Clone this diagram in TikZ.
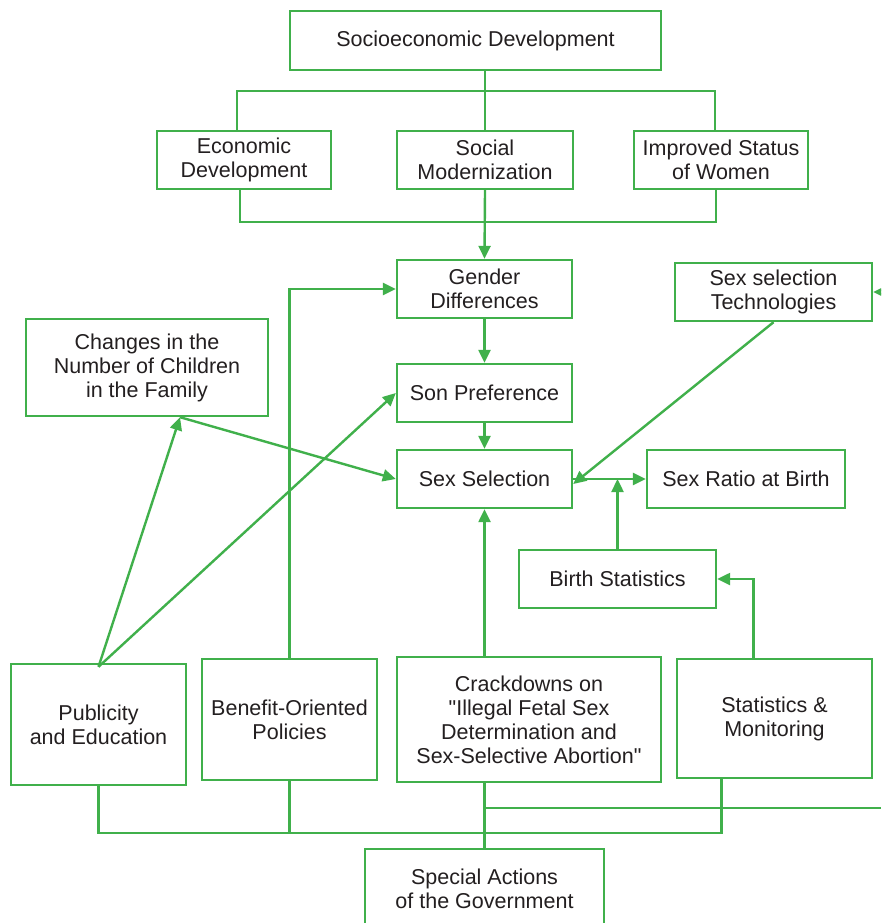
\documentclass[tikz,border=0pt]{standalone}
\usepackage{fontspec}
\setmainfont{Liberation Sans}[Ligatures=TeXOff]
\usepackage{xcolor}
\usepackage{tikz}
\usetikzlibrary{arrows.meta, positioning, calc}

\definecolor{grn}{RGB}{64,176,75}
\definecolor{ink}{RGB}{35,31,32}

\tikzset{
  blk/.style={draw=grn, line width=2.4pt, text=ink, align=center, inner sep=0pt,
    font=\fontsize{21.5}{24}\selectfont},
  lnk/.style={draw=grn, line width=2.4pt},
  arr/.style={lnk, -{Triangle[length=13pt,width=12pt]}}
}

\begin{document}
\begin{tikzpicture}[x=1pt, y=-1pt]
    \clip (0,0) rectangle (881,923);
    \fill[white] (0,0) rectangle (881,923);
    % top part
    \node(socio) at (475.5,40.5) [blk, minimum width=371, minimum height=59] {Socioeconomic Development};
    \node(econ) at (244,160) [blk, minimum width=174, minimum height=58] {Economic\\Development};
    \node(social) at (485,160) [blk, minimum width=176, minimum height=58] {Social\\Modernization};
    \node(impr) at (721,160) [blk, minimum width=174, minimum height=58] {Improved Status\\of Women};
    \node(gender) at (484.5,289) [blk, minimum width=175, minimum height=58] {Gender\\Differences};
    \node(sonpref) at (484.5,393) [blk, minimum width=175, minimum height=58] {Son Preference};
    \node(sexsel) at (484.5,479) [blk, minimum width=175, minimum height=58] {Sex Selection};
    \node(tech) at (773.5,292) [blk, minimum width=197, minimum height=58] {Sex selection\\Technologies};
    \node(ratio) at (746,479) [blk, minimum width=198, minimum height=58] {Sex Ratio at Birth};
    \node(birth) at (617.5,579) [blk, minimum width=197, minimum height=58] {Birth Statistics};
    \node(changes) at (147,367.5) [blk, minimum width=242, minimum height=97] {Changes in the\\Number of Children\\in the Family};
    % bottom part
    \node(publ) at (98.5,724.5) [blk, minimum width=175, minimum height=121] {Publicity\\and Education};
    \node(benefit) at (289.5,719.5) [blk, minimum width=175, minimum height=121] {Benefit-Oriented\\Policies};
    \node(crack) at (529,719.5) [blk, minimum width=264, minimum height=125] {Crackdowns on\\"Illegal Fetal Sex\\Determination and\\Sex-Selective Abortion"};
    \node(stats) at (774.5,718.5) [blk, minimum width=195, minimum height=119] {Statistics \&\\Monitoring};
    \node(special) at (484.5,889) [blk, minimum width=239, minimum height=80] {Special Actions\\of the Government};
    \coordinate(topbar) at (0,91);
    \coordinate(midbar) at (0,222);
    \coordinate(govbar) at (0,833);
    \coordinate(techin) at (896,292);
    \coordinate(rightout) at (881,808);
    % connectors
    \draw[lnk] (socio.south -| social) -- (social.north);
    \draw[lnk] ([xshift=-7pt]econ.north) |- ([xshift=-6pt]impr.north |- topbar) -- ([xshift=-6pt]impr.north);
    \draw[lnk] ([xshift=-4pt]econ.south) |- ([xshift=-5pt]impr.south |- midbar) -- ([xshift=-5pt]impr.south);
    \draw[arr] (social.south) -- (gender.north);
    \draw[arr] (gender) -- (sonpref);
    \draw[arr] (sonpref) -- (sexsel);
    \draw[arr] (techin) -- (tech.east);
    \draw[arr] (tech.south) -- ([yshift=-5pt]sexsel.east);
    \draw[arr] (sexsel) -- (ratio);
    \draw[arr] (birth.north) -- (birth |- sexsel);
    \draw[arr] ([xshift=33pt]changes.south) -- (sexsel.west);
    \draw[arr] ([yshift=-4pt]publ.north) -- ([xshift=33pt]changes.south);
    \draw[arr] ([yshift=-4pt]publ.north) -- (sonpref.west);
    \draw[arr] (benefit.north) |- (gender.west);
    \draw[arr] (crack.north -| sexsel) -- (sexsel.south);
    \draw[arr] ([xshift=-21pt]stats.north) |- (birth.east);
    \draw[lnk] (publ.south) |- ([xshift=-53pt]stats.south |- govbar) -- ([xshift=-53pt]stats.south);
    \draw[lnk] (benefit.south) -- (benefit.south |- govbar);
    \draw[lnk] (crack.south -| special) -- (special.north);
    \draw[lnk] (special.north |- rightout) -- (rightout);
  \end{tikzpicture}
\end{document}
